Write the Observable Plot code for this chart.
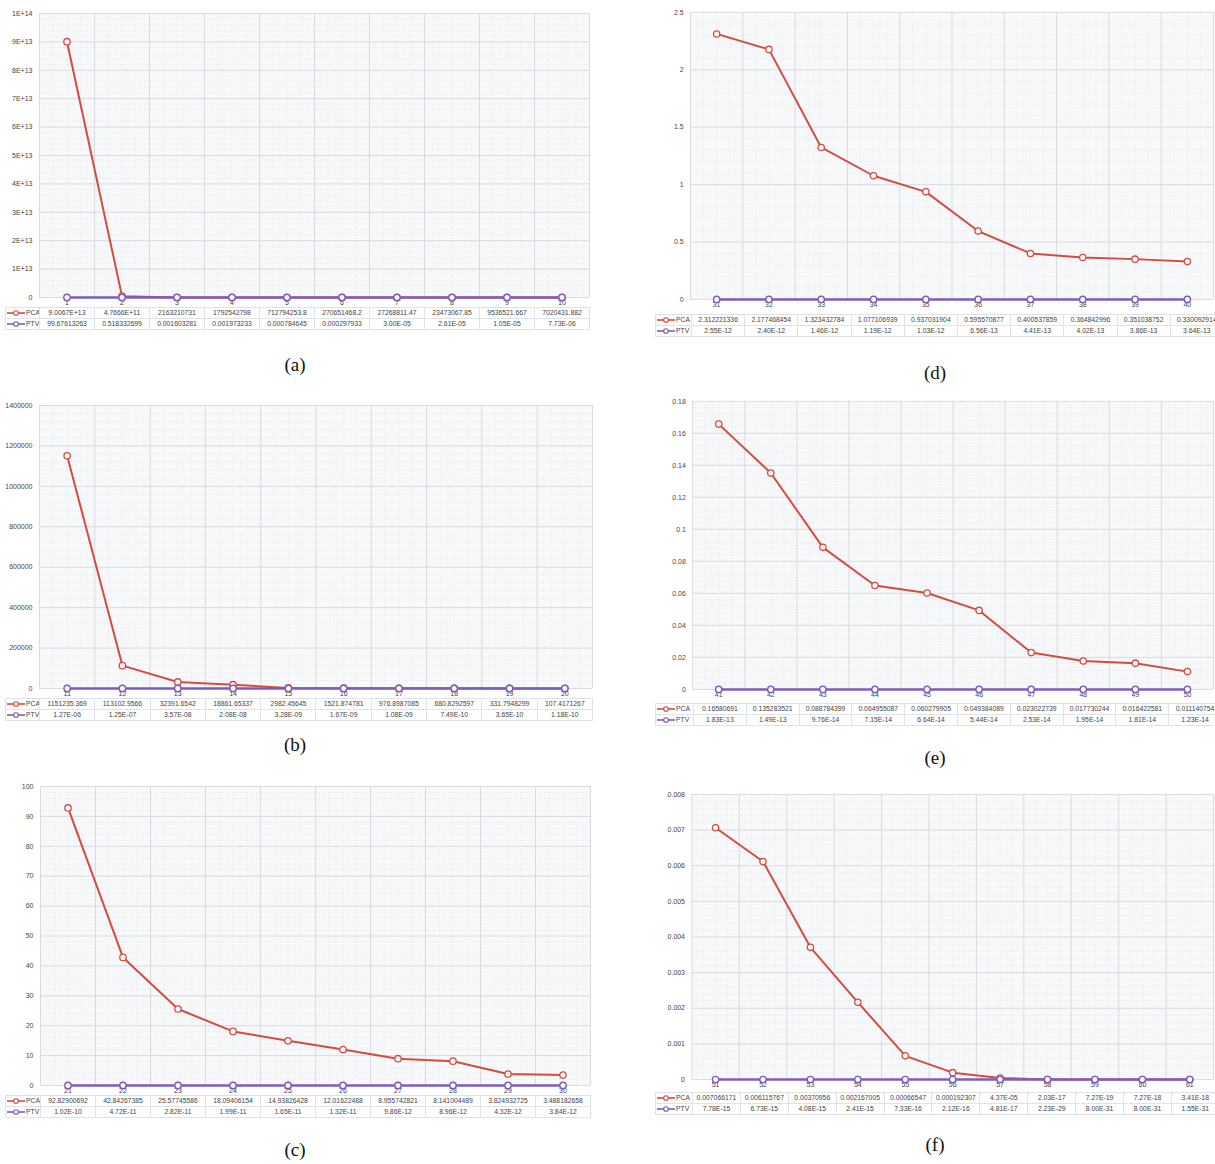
<!DOCTYPE html>
<html><head><meta charset="utf-8">
<script src="https://cdn.jsdelivr.net/npm/d3@7"></script>
<script src="https://cdn.jsdelivr.net/npm/@observablehq/plot@0.6"></script>
<style>
body{margin:0;background:#fff;width:1215px;height:1164px;position:relative;overflow:hidden;font-family:"Liberation Sans",Arial,sans-serif;}
.panel{position:absolute;}
.cap{position:absolute;font-family:"Liberation Serif","Times New Roman",serif;font-size:19px;color:#111;transform:translate(-50%,-50%);}
table.dt{position:absolute;border-collapse:collapse;font-size:6.8px;color:#444;table-layout:fixed;}
table.dt td{border:1px solid #dfe2e6;text-align:center;height:10px;padding:0;white-space:nowrap;overflow:hidden;line-height:10px;}
table.dt td.lg{text-align:left;}
</style></head><body>
<script>
// ---------- data ----------
const seriesNames = ["PCA", "PTV"];

const catsA = ["1","2","3","4","5","6","7","8","9","10"];
const pcaA = [9.0067e13, 4.7666e11, 2163210731, 1792542798, 712794253.8, 270651468.2, 27268811.47, 23473067.85, 9536521.667, 7020431.882];
const ptvA = [99.67613263, 0.518332699, 0.001603281, 0.001973233, 0.000784645, 0.000297933, 3.00e-5, 2.61e-5, 1.05e-5, 7.73e-6];
const yTicksA = [0,1e13,2e13,3e13,4e13,5e13,6e13,7e13,8e13,9e13,1e14];

const catsB = ["11","12","13","14","15","16","17","18","19","20"];
const pcaB = [1151235.369, 113102.9566, 32391.6542, 18861.65337, 2982.45645, 1521.874781, 976.8987085, 680.8292597, 331.7948299, 107.4171267];
const ptvB = [1.27e-6, 1.25e-7, 3.57e-8, 2.08e-8, 3.28e-9, 1.67e-9, 1.08e-9, 7.49e-10, 3.65e-10, 1.18e-10];
const yTicksB = [0,200000,400000,600000,800000,1000000,1200000,1400000];

const catsC = ["21","22","23","24","25","26","27","28","29","30"];
const pcaC = [92.82900692, 42.84267385, 25.57745586, 18.09406154, 14.93826428, 12.01622488, 8.955742821, 8.141004489, 3.824932725, 3.488182658];
const ptvC = [1.02e-10, 4.72e-11, 2.82e-11, 1.99e-11, 1.65e-11, 1.32e-11, 9.86e-12, 8.96e-12, 4.32e-12, 3.84e-12];
const yTicksC = [0,10,20,30,40,50,60,70,80,90,100];

const catsD = ["31","32","33","34","35","36","37","38","39","40"];
const pcaD = [2.312221336, 2.177468454, 1.323432784, 1.077106939, 0.937031904, 0.595570877, 0.400537859, 0.364842996, 0.351038752, 0.330092914];
const ptvD = [2.55e-12, 2.40e-12, 1.46e-12, 1.19e-12, 1.03e-12, 6.56e-13, 4.41e-13, 4.02e-13, 3.86e-13, 3.64e-13];
const yTicksD = [0,0.5,1,1.5,2,2.5];

const catsE = ["41","42","43","44","45","46","47","48","49","50"];
const pcaE = [0.16580691, 0.135283521, 0.088784399, 0.064955087, 0.060279905, 0.049384089, 0.023022739, 0.017730244, 0.016422581, 0.011140754];
const ptvE = [1.83e-13, 1.49e-13, 9.76e-14, 7.15e-14, 6.64e-14, 5.44e-14, 2.53e-14, 1.95e-14, 1.81e-14, 1.23e-14];
const yTicksE = [0,0.02,0.04,0.06,0.08,0.1,0.12,0.14,0.16,0.18];

const catsF = ["51","52","53","54","55","56","57","58","59","60","61"];
const pcaF = [0.007066171, 0.006115767, 0.00370956, 0.002167005, 0.00066547, 0.000192307, 4.37e-5, 2.03e-17, 7.27e-19, 7.27e-18, 3.41e-18];
const ptvF = [7.78e-15, 6.73e-15, 4.08e-15, 2.41e-15, 7.33e-16, 2.12e-16, 4.81e-17, 2.23e-29, 8.00e-31, 8.00e-31, 1.55e-31];
const yTicksF = [0,0.001,0.002,0.003,0.004,0.005,0.006,0.007,0.008];

const captions = ["(a)","(b)","(c)","(d)","(e)","(f)"];

// ---------- styling / layout ----------
const RED = "#d44b40", PURPLE = "#7d5cbf";

function sciFmt(v, digits) {
  const [m, e] = v.toExponential(digits).split("e");
  const sign = e[0] === "-" ? "-" : "+";
  const ex = e.replace(/^[+-]/, "").padStart(2, "0");
  return m + "E" + sign + ex;
}
function cellFmt(v) {
  if (v === 0) return "0";
  const a = Math.abs(v);
  if (a >= 1e11) return sciFmt(v, 4);
  if (a < 1e-4) return sciFmt(v, 2);
  let dec;
  if (a < 1) dec = 9;
  else dec = Math.max(0, 10 - (Math.floor(Math.log10(a)) + 1));
  let s = v.toFixed(dec);
  if (s.includes(".")) s = s.replace(/0+$/, "").replace(/\.$/, "");
  return s;
}
function tickFmtSci(v) { return v === 0 ? "0" : sciFmt(v, 0); }
function tickFmtPlain(v) { return String(+v.toFixed(10)); }

const panels = [
  {cats: catsA, pca: pcaA, ptv: ptvA, ticks: yTicksA, fmt: tickFmtSci, svgLeft: 0, L: 39, w: 55, yTop: 13, yZero: 297, tblLeft: 5, cap: [295, 365]},
  {cats: catsB, pca: pcaB, ptv: ptvB, ticks: yTicksB, fmt: tickFmtPlain, svgLeft: 0, L: 39, w: 55.3, yTop: 405, yZero: 688, tblLeft: 5, cap: [295, 745]},
  {cats: catsC, pca: pcaC, ptv: ptvC, ticks: yTicksC, fmt: tickFmtPlain, svgLeft: 0, L: 40, w: 55, yTop: 786, yZero: 1085, tblLeft: 5, cap: [295, 1150]},
  {cats: catsD, pca: pcaD, ptv: ptvD, ticks: yTicksD, fmt: tickFmtPlain, svgLeft: 630, L: 691, w: 53.2, yTop: 12, yZero: 304, tblLeft: 655, cap: [935, 373]},
  {cats: catsE, pca: pcaE, ptv: ptvE, ticks: yTicksE, fmt: tickFmtPlain, svgLeft: 630, L: 693, w: 52.8, yTop: 401, yZero: 693, tblLeft: 655, cap: [935, 758]},
  {cats: catsF, pca: pcaF, ptv: ptvF, ticks: yTicksF, fmt: tickFmtPlain, svgLeft: 630, L: 692, w: 47.9, yTop: 794, yZero: 1082, tblLeft: 655, cap: [935, 1145]}
];

function swatch(color) {
  return `<svg width="20" height="8" style="vertical-align:middle"><line x1="1" y1="4" x2="19" y2="4" stroke="${color}" stroke-width="1.6"/><circle cx="10" cy="4" r="2.3" fill="#fff" stroke="${color}" stroke-width="1.1"/></svg>`;
}

panels.forEach((p, k) => {
  const n = p.cats.length;
  const mt = 8, mb = 12;
  const svgTop = p.yTop - mt;
  const innerW = n * p.w;
  const svgW = (p.L - p.svgLeft) + innerW + 2;
  const svgH = (p.yZero - p.yTop) + mt + mb;
  const yMax = p.ticks[p.ticks.length - 1];
  const step = p.ticks[1] - p.ticks[0];
  const idx = d3.range(n);
  const rowsPCA = idx.map(i => ({i, v: p.pca[i]}));
  const rowsPTV = idx.map(i => ({i, v: p.ptv[i]}));
  const bounds = d3.range(n + 1).map(i => i - 0.5);
  const minorX = d3.range(n).flatMap(i => [0.25, 0.5, 0.75].map(f => i - 0.5 + f));
  const minorY = p.ticks.slice(0, -1).flatMap(t => [0.2, 0.4, 0.6, 0.8].map(f => t + f * step));

  const chart = Plot.plot({
    width: svgW, height: svgH,
    marginLeft: p.L - p.svgLeft, marginRight: 2, marginTop: mt, marginBottom: mb,
    style: {background: "transparent", fontFamily: "'Liberation Sans', Arial, sans-serif", fontSize: "7px", color: "#444"},
    x: {domain: [-0.5, n - 0.5], ticks: idx, tickFormat: i => p.cats[i], tickSize: 0, tickPadding: 3, label: null},
    y: {domain: [0, yMax], ticks: p.ticks, tickFormat: p.fmt, tickSize: 0, tickPadding: 7, label: null},
    marks: [
      Plot.frame({fill: "#f7f8fa", stroke: null}),
      Plot.ruleY(minorY, {stroke: "#e1e4e8", strokeDasharray: "1,2", strokeWidth: 0.8}),
      Plot.ruleX(minorX, {stroke: "#e1e4e8", strokeDasharray: "1,2", strokeWidth: 0.8}),
      Plot.ruleY(p.ticks, {stroke: "#d8dbe0", strokeWidth: 1}),
      Plot.ruleX(bounds, {stroke: "#d8dbe0", strokeWidth: 1}),
      Plot.line(rowsPCA, {x: "i", y: "v", stroke: RED, strokeWidth: 2}),
      Plot.dot(rowsPCA, {x: "i", y: "v", r: 3.2, fill: "#fff", stroke: RED, strokeWidth: 1.3}),
      Plot.line(rowsPTV, {x: "i", y: "v", stroke: PURPLE, strokeWidth: 2.6}),
      Plot.dot(rowsPTV, {x: "i", y: "v", r: 3.2, fill: "#fff", stroke: PURPLE, strokeWidth: 1.4})
    ]
  });
  const div = document.createElement("div");
  div.className = "panel";
  div.style.left = p.svgLeft + "px";
  div.style.top = svgTop + "px";
  div.appendChild(chart);
  document.body.appendChild(div);

  // data table
  const tbl = document.createElement("table");
  tbl.className = "dt";
  tbl.style.left = p.tblLeft + "px";
  tbl.style.top = (p.yZero + 10) + "px";
  const lgW = p.L - p.tblLeft;
  tbl.style.width = (lgW + innerW) + "px";
  let html = `<colgroup><col style="width:${lgW}px">` + idx.map(() => `<col style="width:${p.w}px">`).join("") + `</colgroup>`;
  [[seriesNames[0], p.pca, RED], [seriesNames[1], p.ptv, PURPLE]].forEach(([name, vals, col]) => {
    html += `<tr><td class="lg">${swatch(col)}${name}</td>` + vals.map(v => `<td>${cellFmt(v)}</td>`).join("") + `</tr>`;
  });
  tbl.innerHTML = html;
  document.body.appendChild(tbl);

  const cap = document.createElement("div");
  cap.className = "cap";
  cap.style.left = p.cap[0] + "px";
  cap.style.top = p.cap[1] + "px";
  cap.textContent = captions[k];
  document.body.appendChild(cap);
});
</script>
</body></html>
